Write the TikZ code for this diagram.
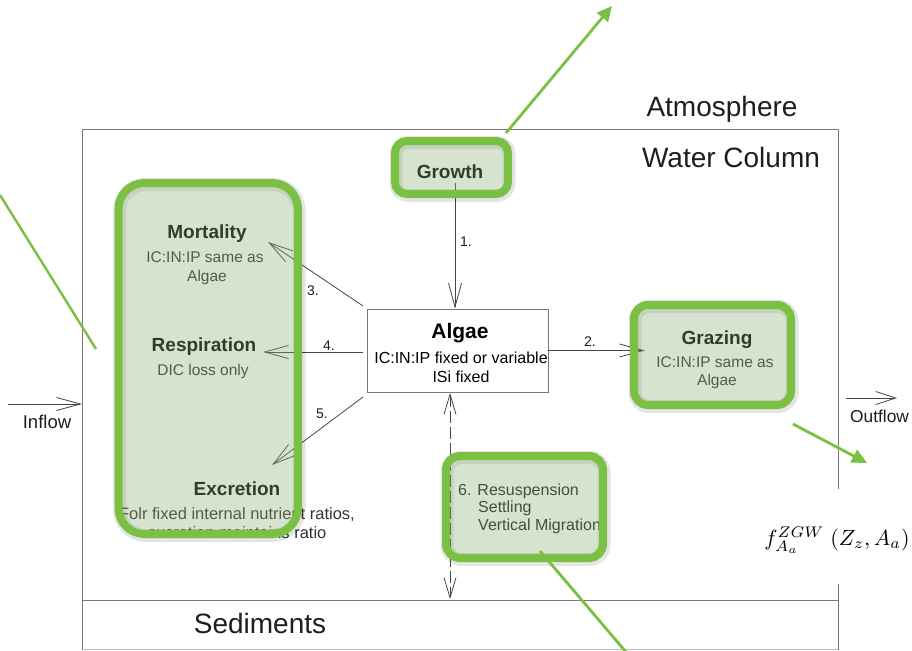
\documentclass[tikz,border=0pt]{standalone}
\usepackage[no-math]{fontspec}
\setmainfont{Liberation Sans}
\usetikzlibrary{arrows.meta}
\definecolor{gline}{RGB}{122,192,66}
\definecolor{gfill}{RGB}{138,178,118}
\definecolor{ink}{RGB}{30,30,30}
\definecolor{inkb}{RGB}{50,50,50}
\definecolor{frame}{RGB}{120,120,120}
\definecolor{arrc}{RGB}{70,70,70}
\tikzset{
  fs/.style={font=\fontsize{#1}{#1}\selectfont},
  txt/.style={inner sep=0pt, anchor=base, text=ink},
  txtw/.style={inner sep=0pt, anchor=base west, text=ink},
  bx/.style={font=\fontsize{19}{19}\selectfont\bfseries, text=black},
  framel/.style={draw=frame, line width=0.9pt},
  arr/.style={draw=arrc, line width=0.8pt, -{Straight Barb[length=24pt,width=13pt]}},
  dbl/.style={draw=arrc, line width=0.8pt, dash pattern=on 12pt off 4pt,
     {Straight Barb[length=20pt,width=12pt]}-{Straight Barb[length=20pt,width=12pt]}},
  gbox/.style={draw=gline, line width=8pt, fill=gfill, fill opacity=0.35, inner sep=0pt},
  gshadow/.style={draw=black, draw opacity=0.10, line width=13pt, inner sep=0pt, fill=none},
  gl/.style={draw=gline, line width=2.8pt},
  gtip/.style={-{Triangle[length=15pt,width=14pt]}},
}
\begin{document}
\begin{tikzpicture}[x=1pt,y=-1pt]
\useasboundingbox (0,0) rectangle (912,650);
\fill[white] (0,0) rectangle (912,650);

% water column frame and sediments line
\coordinate (wcBL) at (82,650);
\coordinate (wcTL) at (82,129);
\coordinate (wcTR) at (838,129);
\coordinate (wcBR) at (838,650);
\coordinate (sedL) at (82,600);
\coordinate (sedR) at (838,600);
\coordinate (botL) at (82,649);
\coordinate (botR) at (838,649);
\draw[framel] (wcBL) -- (wcTL) -- (wcTR) -- (wcBR);
\draw[framel] (sedL) -- (sedR);
\draw[framel, draw opacity=0.5] (botL) -- (botR);

% big labels
\node[txt, fs=28] (atm) at (722,117) {Atmosphere};
\node[txt, fs=28] (wcol) at (731,167) {Water Column};
\node[txt, fs=28] (sed) at (260,633) {Sediments};

% inflow / outflow
\coordinate (inS) at (8,404);
\coordinate (inE) at (82,404);
\draw[arr] (inS) -- (inE);
\node[txt, fs=18.5] (inflow) at (47,428) {Inflow};
\coordinate (outS) at (846,398);
\coordinate (outE) at (897,398);
\draw[arr, -{Straight Barb[length=20pt,width=13pt]}] (outS) -- (outE);
\node[txtw, fs=17.3] (outflow) at (850,422) {Outflow};

% Algae box
\node[draw=frame, line width=0.9pt, fill=white, minimum width=181pt, minimum height=83pt, inner sep=0pt] (algae) at (457.5,350.5) {};
\node[txt, font=\fontsize{21}{21}\selectfont\bfseries, text=black] (algT) at (460,338.5) {Algae};
\node[txt, fs=16, text=black] (algL1) at (461,363.5) {IC:IN:IP fixed or variable};
\node[txt, fs=16, text=black] (algL2) at (461,382.5) {ISi fixed};

% Growth
\node[txt, bx] (growT) at (450,178) {Growth};
\coordinate (g1) at (455,183);
\draw[arr] (g1) -- (g1 |- algae.north);
\node[txt, fs=14] (n1) at (466,246) {1.};

% Grazing
\node[txt, bx] (grzT) at (717,344) {Grazing};
\node[txt, fs=15.5, text=inkb] (grzL1) at (715,367.5) {IC:IN:IP same as};
\node[txt, fs=15.5, text=inkb] (grzL2) at (717,385.5) {Algae};
\coordinate (grzTip) at (645,350.5);
\draw[arr] (algae.east) -- (grzTip);
\node[txt, fs=14] (n2) at (590,346) {2.};

% Mortality / Respiration / Excretion
\node[txt, bx] (morT) at (207,238) {Mortality};
\node[txt, fs=15.5, text=inkb] (morL1) at (205,262.5) {IC:IN:IP same as};
\node[txt, fs=15.5, text=inkb] (morL2) at (207,281.5) {Algae};
\node[txt, bx] (resT) at (204,351) {Respiration};
\node[txt, fs=15.5, text=inkb] (resL1) at (203,375.5) {DIC loss only};
\node[txt, bx] (excT) at (237,495) {Excretion};
\node[txt, fs=16.5, text=inkb] (excL1) at (237,519) {Folr fixed internal nutrient ratios,};
\node[txt, fs=16.5, text=inkb] (excL2) at (237,538) {excretion maintains ratio};

\coordinate (a3) at (363,306);
\coordinate (m3) at (268,242);
\draw[arr] (a3) -- (m3);
\node[txt, fs=14] (n3) at (313,295) {3.};
\coordinate (a4) at (363,352);
\coordinate (m4) at (263,352);
\draw[arr] (a4) -- (m4);
\node[txt, fs=14] (n4) at (329,350) {4.};
\coordinate (a5) at (363,397);
\coordinate (m5) at (272,465);
\draw[arr] (a5) -- (m5);
\node[txt, fs=14] (n5) at (322,418) {5.};

% Resuspension
\coordinate (d1) at (450,393);
\coordinate (d2) at (450,599);
\draw[dbl] (d1) -- (d2);
\node[txtw, fs=16] (rsL1) at (458,495.5) {6. Resuspension};
\node[txtw, fs=16] (rsL2) at (478,512.5) {Settling};
\node[txtw, fs=16] (rsL3) at (478,530.5) {Vertical Migration};

% formula area
\node[fill=white, minimum width=189pt, minimum height=95pt, inner sep=0pt] (fbox) at (817.5,536) {};
\node[inner sep=0pt, scale=2.2, transform shape] (formula) at (837,540) {$f_{A_a}^{ZGW}\;(Z_z, A_a)$};

% green highlight overlays
\foreach \cx/\cy/\w/\h/\r in {208.25/358.5/179.5/351/26, 451.5/167.5/113/53/12, 712.5/355/157/100/14, 524.5/507/157/102/14}{
  \path[gshadow, rounded corners=\r pt] ([xshift=1pt,yshift=-1.5pt]\cx-\w/2,\cy-\h/2) rectangle ([xshift=1pt,yshift=-1.5pt]\cx+\w/2,\cy+\h/2);
}
\node[gbox, rounded corners=26pt, minimum width=179.5pt, minimum height=351pt] (hlLeft) at (208.25,358.5) {};
\node[gbox, rounded corners=12pt, minimum width=113pt, minimum height=53pt] (hlGrow) at (451.5,167.5) {};
\node[gbox, rounded corners=14pt, minimum width=157pt, minimum height=100pt] (hlGraz) at (712.5,355) {};
\node[gbox, rounded corners=14pt, minimum width=157pt, minimum height=102pt] (hlRes) at (524.5,507) {};

% green callout lines
\coordinate (cG1) at (506,133);
\coordinate (cG2) at (612,6);
\draw[gl, gtip] (cG1) -- (cG2);
\coordinate (cL1) at (0,195);
\coordinate (cL2) at (96,349);
\draw[gl, line width=2.4pt] (cL1) -- (cL2);
\coordinate (cZ1) at (793,424);
\coordinate (cZ2) at (867,463);
\draw[gl, gtip] (cZ1) -- (cZ2);
\coordinate (cR1) at (540,551);
\coordinate (cR2) at (626,652);
\draw[gl] (cR1) -- (cR2);
\end{tikzpicture}
\end{document}
